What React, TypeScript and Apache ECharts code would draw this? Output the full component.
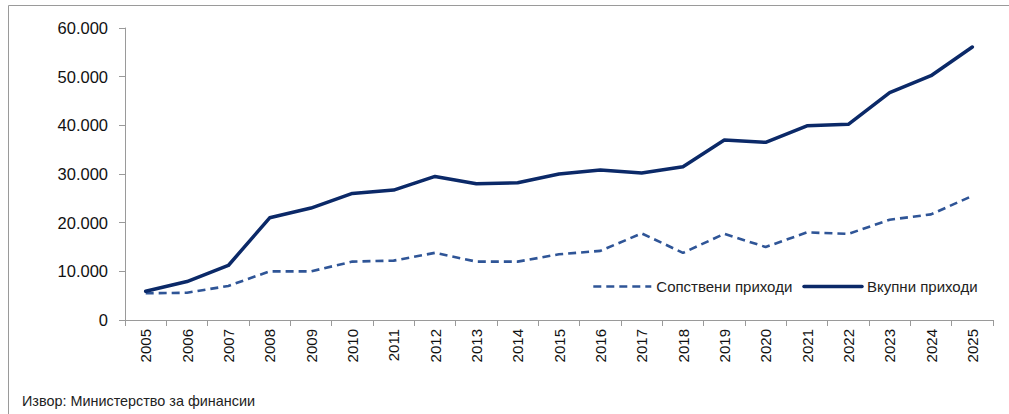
import React, { useEffect, useRef } from "react";
import * as echarts from "echarts";

const years = ["2005","2006","2007","2008","2009","2010","2011","2012","2013","2014","2015","2016","2017","2018","2019","2020","2021","2022","2023","2024","2025"];
const ownRevenue = [5500,5600,7000,10000,10000,12000,12200,13800,12000,12000,13500,14200,17800,13800,17700,15000,18000,17700,20600,21700,25500];
const totalRevenue = [5900,7900,11200,21000,23000,26000,26700,29500,28000,28200,30000,30800,30200,31500,37000,36500,39900,40200,46700,50200,56100];
const seriesNames = ["Сопствени приходи", "Вкупни приходи"];
const sourceText = "Извор: Министерство за финансии";

const FONT = "'Liberation Sans', Arial, sans-serif";

export default function App() {
  const ref = useRef<HTMLDivElement>(null);
  useEffect(() => {
    if (!ref.current) return;
    const chart = echarts.init(ref.current, null, { renderer: "svg" });
    chart.setOption({
      animation: false,
      backgroundColor: "#ffffff",
      textStyle: { fontFamily: FONT },
      grid: { left: 125, right: 16, top: 28, bottom: 94, containLabel: false },
      legend: {
        left: 592,
        top: 279,
        padding: 0,
        itemWidth: 58,
        itemHeight: 14,
        itemGap: 10,
        itemStyle: { opacity: 0 },
        textStyle: { fontSize: 15, color: "#222", fontFamily: FONT },
        data: [
          { name: seriesNames[0], lineStyle: { width: 2.6 } },
          { name: seriesNames[1], lineStyle: { width: 3.5 } },
        ],
      },
      xAxis: {
        type: "category",
        data: years,
        boundaryGap: true,
        axisLine: { show: true, lineStyle: { color: "#9a9a9a", width: 1 } },
        axisTick: { show: true, length: 6, lineStyle: { color: "#9a9a9a" }, alignWithLabel: false },
        axisLabel: { rotate: 90, fontSize: 15, color: "#111", margin: 9, fontFamily: FONT },
        splitLine: { show: false },
      },
      yAxis: {
        type: "value",
        min: 0,
        max: 60000,
        interval: 10000,
        axisLine: { show: true, lineStyle: { color: "#9a9a9a", width: 1 } },
        axisTick: { show: true, length: 6, lineStyle: { color: "#9a9a9a" } },
        axisLabel: {
          fontSize: 16.5,
          color: "#111",
          margin: 17,
          fontFamily: FONT,
          formatter: (v: number) => (v === 0 ? "0" : (v / 1000).toFixed(0) + ".000"),
        },
        splitLine: { show: false },
      },
      series: [
        {
          name: seriesNames[0],
          type: "line",
          data: ownRevenue,
          symbol: "none",
          lineStyle: { color: "#2F5597", width: 2.6, type: [8, 5] },
          itemStyle: { color: "#2F5597" },
        },
        {
          name: seriesNames[1],
          type: "line",
          data: totalRevenue,
          symbol: "none",
          lineStyle: { color: "#0B2968", width: 3.5, cap: "round", join: "round" },
          itemStyle: { color: "#0B2968" },
        },
      ],
      graphic: [
        {
          type: "rect",
          shape: { x: 8.5, y: 5.5, width: 1100, height: 500 },
          style: { fill: "none", stroke: "#9a9a9a", lineWidth: 1 },
          silent: true,
        },
        {
          type: "text",
          left: 22,
          top: 394,
          style: { text: sourceText, fontSize: 14.4, fill: "#222", fontFamily: FONT },
        },
      ],
    });
    return () => chart.dispose();
  }, []);
  return (
    <div
      ref={ref}
      style={{ position: "fixed", left: 0, top: 0, width: 1009, height: 414 }}
    />
  );
}
